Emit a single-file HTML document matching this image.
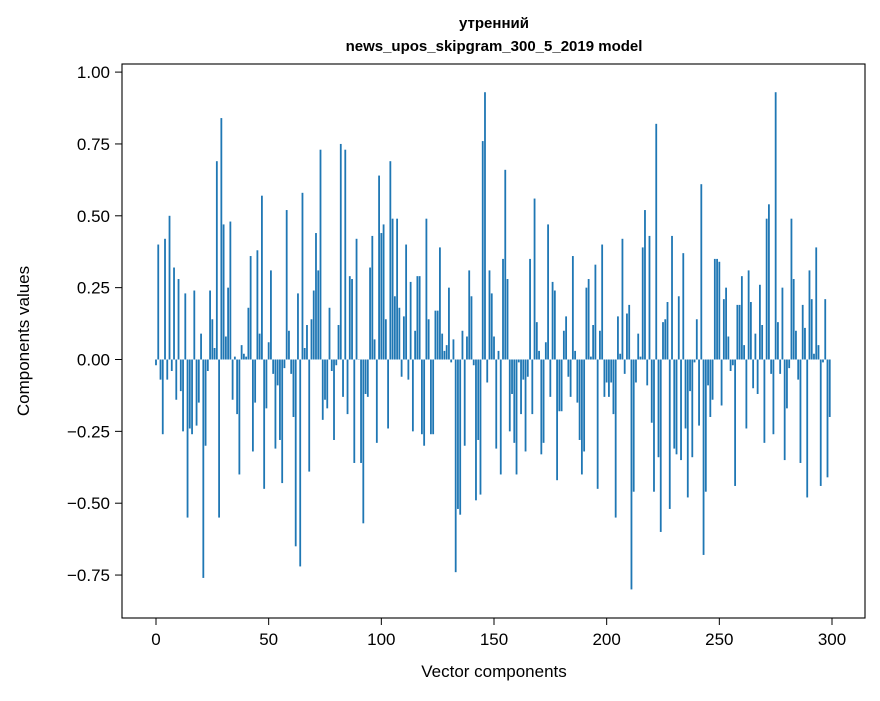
<!DOCTYPE html>
<html><head><meta charset="utf-8"><style>
body{margin:0;background:#fff;}
svg text{font-family:"Liberation Sans","DejaVu Sans",sans-serif;fill:#000;}
</style></head><body>
<svg id="chart" width="880" height="696" xmlns="http://www.w3.org/2000/svg">
<rect width="880" height="696" fill="#fff"/>
<text x="494" y="28" font-size="15" font-weight="bold" text-anchor="middle">утренний</text>
<text x="494" y="51" font-size="15" font-weight="bold" text-anchor="middle">news_upos_skipgram_300_5_2019 model</text>
<g id="bars"></g>
<g id="axes"></g>
<rect x="122" y="64" width="743" height="554" fill="none" stroke="#000" stroke-width="1.1"/>
<text x="494" y="677" font-size="17" text-anchor="middle">Vector components</text>
<text transform="translate(29,341) rotate(-90)" font-size="17" text-anchor="middle">Components values</text>
</svg>
<script>
const values = [
-0.02,0.40,-0.07,-0.26,0.42,-0.07,0.50,-0.04,0.32,-0.14,0.28,-0.11,-0.25,0.23,-0.55,-0.24,-0.26,0.24,-0.23,-0.15,0.09,-0.76,-0.30,-0.04,0.24,0.14,0.04,0.69,-0.55,0.84,0.47,0.08,0.25,0.48,-0.14,0.01,-0.19,-0.40,0.05,0.02,0.01,0.18,
0.36,-0.32,-0.15,0.38,0.09,0.57,-0.45,-0.17,0.06,0.31,-0.05,-0.31,-0.09,-0.28,-0.43,-0.03,0.52,0.10,-0.05,-0.20,-0.65,0.23,-0.72,0.58,0.04,0.12,-0.39,0.14,0.24,0.44,0.31,0.73,-0.21,-0.14,-0.17,0.18,-0.04,-0.28,-0.02,0.12,0.75,-0.13,0.73,-0.19,
0.29,0.28,-0.36,0.42,0.00,-0.36,-0.57,-0.12,-0.13,0.32,0.43,0.07,-0.29,0.64,0.44,0.47,0.14,-0.24,0.69,0.49,0.22,0.49,0.18,-0.06,0.15,0.40,-0.07,0.27,-0.25,0.10,0.29,0.29,-0.26,-0.30,0.49,0.14,-0.26,-0.26,0.17,0.17,0.39,0.09,0.03,
0.05,0.25,-0.01,0.07,-0.74,-0.52,-0.54,0.10,-0.30,0.08,0.31,0.22,-0.02,-0.49,-0.28,-0.47,0.76,0.93,-0.08,0.31,0.23,0.08,-0.31,0.03,-0.40,0.35,0.66,0.28,-0.25,-0.12,-0.29,-0.40,-0.01,-0.19,-0.07,-0.32,-0.06,0.35,-0.19,0.56,0.13,0.03,-0.33,
-0.29,0.06,0.47,-0.13,0.27,0.24,-0.42,-0.18,-0.18,0.10,0.15,-0.06,-0.13,0.36,0.03,-0.15,-0.28,-0.40,-0.32,0.25,0.28,0.01,0.12,0.33,-0.45,0.10,0.40,-0.13,-0.08,-0.13,-0.08,-0.19,-0.55,0.15,0.02,0.42,-0.05,0.16,0.19,-0.80,-0.46,-0.08,0.09,0.01,
0.39,0.52,-0.09,0.43,-0.22,-0.46,0.82,-0.34,-0.60,0.13,0.14,0.20,-0.52,0.43,-0.31,-0.33,0.22,-0.35,0.37,-0.24,-0.48,-0.11,-0.34,-0.01,0.14,-0.23,0.61,-0.68,-0.46,-0.09,-0.20,-0.14,0.35,0.35,0.34,-0.16,0.21,0.25,0.08,-0.04,-0.02,-0.44,0.19,
0.19,0.29,0.05,-0.24,0.31,0.20,-0.10,0.09,-0.12,0.26,0.12,-0.29,0.49,0.54,-0.05,-0.26,0.93,0.13,-0.05,0.25,-0.35,-0.17,-0.03,0.49,0.28,0.10,-0.07,-0.36,0.19,0.11,-0.48,0.31,0.21,0.02,0.39,0.05,-0.44,-0.01,0.21,-0.41,-0.20
];
const yTicks = [1.00,0.75,0.50,0.25,0.00,-0.25,-0.50,-0.75];
const xTicks = [0,50,100,150,200,250,300];

const NS="http://www.w3.org/2000/svg";
function xScale(v){return 156 + v*(676/300);}
function yScale(v){return 359.5 - v*287.4;}
const bars=document.getElementById('bars');
values.forEach((v,i)=>{
  const r=document.createElementNS(NS,'rect');
  
  
  const w=0.8*(676/300);
  const y0=yScale(0), y1=yScale(v);
  r.setAttribute('x',xScale(i)-w/2);
  r.setAttribute('y',Math.min(y0,y1));
  r.setAttribute('width',w);
  r.setAttribute('height',Math.max(Math.abs(y1-y0),0.3));
  r.setAttribute('fill','#1f77b4');
  bars.appendChild(r);
});
const axes=document.getElementById('axes');
yTicks.forEach(t=>{
  const y=yScale(t);
  const l=document.createElementNS(NS,'line');
  
  
  l.setAttribute('x1',115);l.setAttribute('x2',122);l.setAttribute('y1',y);l.setAttribute('y2',y);
  l.setAttribute('stroke','#000');
  axes.appendChild(l);
  const tx=document.createElementNS(NS,'text');
  
  
  tx.setAttribute('x',110);tx.setAttribute('y',y+6);
  tx.setAttribute('font-size','17');tx.setAttribute('text-anchor','end');
  tx.textContent=(t<0?'\u2212'+Math.abs(t).toFixed(2):t.toFixed(2));
  axes.appendChild(tx);
});
xTicks.forEach(t=>{
  const x=xScale(t);
  const l=document.createElementNS(NS,'line');
  
  
  l.setAttribute('x1',x);l.setAttribute('x2',x);l.setAttribute('y1',618);l.setAttribute('y2',625);
  l.setAttribute('stroke','#000');
  axes.appendChild(l);
  const tx=document.createElementNS(NS,'text');
  
  
  tx.setAttribute('x',x);tx.setAttribute('y',645);
  tx.setAttribute('font-size','17');tx.setAttribute('text-anchor','middle');
  tx.textContent=t;
  axes.appendChild(tx);
});
</script>
</body></html>
